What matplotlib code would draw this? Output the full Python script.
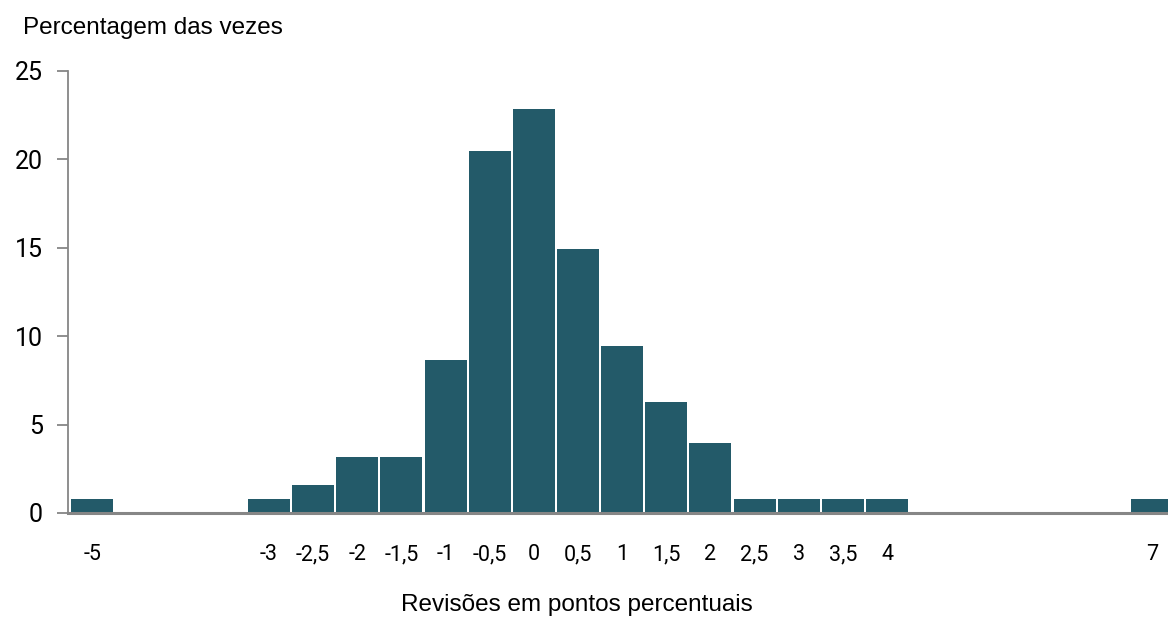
import matplotlib
matplotlib.use('Agg')
import matplotlib.pyplot as plt

# revision bins (percentage points) and share of occurrences (%)
bins = [-5, -3, -2.5, -2, -1.5, -1, -0.5, 0, 0.5, 1, 1.5, 2, 2.5, 3, 3.5, 4, 7]
shares = [0.79, 0.79, 1.57, 3.15, 3.15, 8.66, 20.47, 22.83, 14.96, 9.45, 6.30, 3.94,
          0.79, 0.79, 0.79, 0.79, 0.79]

# only these categories get a label on the axis
xticks = [-5, -3, -2.5, -2, -1.5, -1, -0.5, 0, 0.5, 1, 1.5, 2, 2.5, 3, 3.5, 4, 7]
xticklabels = ['-5', '-3', '-2,5', '-2', '-1,5', '-1', '-0,5', '0', '0,5', '1', '1,5',
               '2', '2,5', '3', '3,5', '4', '7']
yticks = [0, 5, 10, 15, 20, 25]

BARCOLOR = '#235A69'
AXISCOLOR = '#868686'
TEXTFONT = ['Liberation Sans', 'DejaVu Sans']
TICKFONT = ['Roboto', 'DejaVu Sans']

W, H = 1168, 620
fig = plt.figure(figsize=(W / 100, H / 100), dpi=100)
# axes box in pixels: left 68, right 1174 (past the edge, like the original), y 71..513
ax = fig.add_axes([68 / W, (H - 513) / H, (1174 - 68) / W, (513 - 71) / H])

ax.bar(bins, shares, width=0.475, color=BARCOLOR, zorder=2)

ax.set_xlim(-5.276, 7.25)
ax.set_ylim(0, 25)

for side in ['top', 'right']:
    ax.spines[side].set_visible(False)
ax.spines['left'].set_color(AXISCOLOR)
ax.spines['left'].set_linewidth(1.3)
ax.spines['bottom'].set_color(AXISCOLOR)
ax.spines['bottom'].set_linewidth(2.2)
ax.spines['bottom'].set_zorder(3)

ax.set_yticks(yticks)
ax.set_yticklabels([str(v) for v in yticks], family=TICKFONT, fontsize=18)
ax.tick_params(axis='y', length=8, width=1.3, color=AXISCOLOR, pad=10)

ax.set_xticks(xticks)
ax.set_xticklabels(xticklabels, family=TICKFONT, fontsize=15.5)
ax.tick_params(axis='x', length=0, pad=34)
for lbl in ax.get_xticklabels():
    lbl.set_va('baseline')   # keep labels with a comma on the same line

fig.text(23 / W, 1 - 28 / H, 'Percentagem das vezes', family=TEXTFONT, fontsize=17.5,
         ha='left', va='center')
fig.text(577 / W, 1 - 605 / H, 'Revisões em pontos percentuais', family=TEXTFONT,
         fontsize=17.5, ha='center', va='center')

fig.savefig('out.png', dpi=100)
